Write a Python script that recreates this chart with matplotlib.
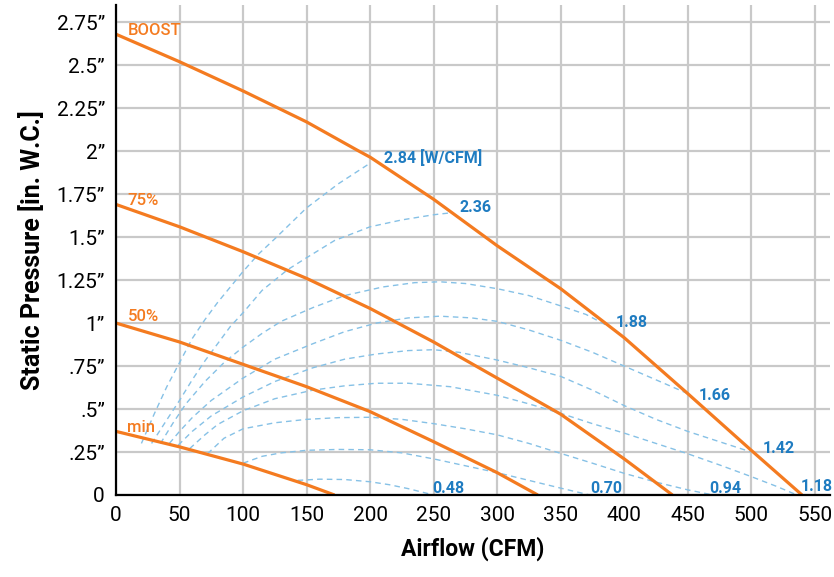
import matplotlib
matplotlib.use('Agg')
import matplotlib.pyplot as plt
from matplotlib import font_manager

# fan speed curves (CFM, in. W.C.)
boost_cfm = [0, 50, 100, 150, 190, 200, 250, 300, 350, 400, 450, 500, 540]
boost_sp = [2.68, 2.52, 2.35, 2.17, 2.005, 1.965, 1.72, 1.45, 1.20, 0.915, 0.59, 0.26, 0.0]
p75_cfm = [0, 50, 100, 150, 200, 250, 300, 350, 400, 438]
p75_sp = [1.69, 1.56, 1.415, 1.26, 1.085, 0.89, 0.68, 0.47, 0.21, 0.0]
p50_cfm = [0, 50, 100, 150, 200, 250, 300, 332]
p50_sp = [1.0, 0.89, 0.76, 0.63, 0.485, 0.31, 0.13, 0.0]
min_cfm = [0, 50, 100, 150, 172]
min_sp = [0.37, 0.28, 0.18, 0.06, 0.0]

speed_names = ['BOOST', '75%', '50%', 'min']
speed_label_y = [2.70, 1.715, 1.04, 0.395]
speed_curves = [(boost_cfm, boost_sp), (p75_cfm, p75_sp), (p50_cfm, p50_sp), (min_cfm, min_sp)]

# efficiency lines (W/CFM)
w284_cfm = [20, 30, 40, 50, 60, 70, 80, 90, 100, 112, 125, 150, 175, 200]
w284_sp = [0.30, 0.47, 0.63, 0.77, 0.91, 1.02, 1.12, 1.21, 1.30, 1.40, 1.49, 1.67, 1.81, 1.93]
w236_cfm = [28, 35, 42, 50, 60, 70, 80, 90, 100, 115, 135, 150, 172, 200, 225, 250, 262]
w236_sp = [0.30, 0.38, 0.46, 0.55, 0.67, 0.78, 0.88, 0.98, 1.06, 1.19, 1.31, 1.38, 1.48, 1.56, 1.60, 1.63, 1.64]
w188_cfm = [35, 45, 55, 70, 85, 100, 115, 130, 155, 180, 210, 235, 255, 275, 300, 325, 350, 370, 388]
w188_sp = [0.30, 0.42, 0.53, 0.66, 0.77, 0.86, 0.94, 1.01, 1.09, 1.16, 1.21, 1.235, 1.24, 1.23, 1.20, 1.16, 1.10, 1.05, 0.98]
w166_cfm = [42, 50, 60, 75, 100, 125, 155, 180, 205, 230, 255, 280, 300, 325, 350, 375, 400, 425, 450]
w166_sp = [0.30, 0.37, 0.45, 0.55, 0.68, 0.79, 0.88, 0.95, 1.00, 1.03, 1.04, 1.03, 1.01, 0.96, 0.90, 0.83, 0.75, 0.67, 0.59]
w142_cfm = [49, 60, 75, 100, 125, 155, 180, 205, 230, 250, 270, 300, 325, 350, 375, 400, 425, 450, 475, 500]
w142_sp = [0.29, 0.37, 0.46, 0.57, 0.66, 0.74, 0.79, 0.82, 0.84, 0.845, 0.83, 0.785, 0.74, 0.69, 0.61, 0.52, 0.44, 0.37, 0.31, 0.25]
w118_cfm = [58, 70, 80, 100, 125, 155, 180, 205, 230, 263, 300, 325, 350, 375, 400, 425, 450, 475, 500, 520, 536]
w118_sp = [0.27, 0.35, 0.41, 0.49, 0.56, 0.61, 0.635, 0.65, 0.65, 0.63, 0.58, 0.53, 0.475, 0.415, 0.36, 0.30, 0.24, 0.175, 0.107, 0.05, 0.0]
w094_cfm = [72, 85, 100, 125, 150, 175, 200, 225, 250, 275, 300, 325, 350, 375, 400, 425, 450, 470]
w094_sp = [0.24, 0.33, 0.385, 0.42, 0.44, 0.45, 0.452, 0.44, 0.415, 0.385, 0.35, 0.30, 0.242, 0.185, 0.126, 0.075, 0.03, 0.0]
w070_cfm = [100, 115, 130, 150, 175, 200, 225, 250, 275, 300, 325, 350, 373]
w070_sp = [0.185, 0.225, 0.245, 0.26, 0.265, 0.263, 0.245, 0.21, 0.17, 0.13, 0.085, 0.04, 0.0]
w048_cfm = [143, 160, 180, 200, 215, 230, 250]
w048_sp = [0.085, 0.092, 0.09, 0.077, 0.06, 0.037, 0.0]

eff_curves = [(w284_cfm, w284_sp), (w236_cfm, w236_sp), (w188_cfm, w188_sp),
              (w166_cfm, w166_sp), (w142_cfm, w142_sp), (w118_cfm, w118_sp),
              (w094_cfm, w094_sp), (w070_cfm, w070_sp), (w048_cfm, w048_sp)]

eff_labels = ['2.84 [W/CFM]', '2.36', '1.88', '1.66', '1.42', '1.18', '0.94', '0.70', '0.48']
eff_label_x = [211, 270, 393, 459, 509, 539, 467, 373, 249]
eff_label_y = [1.96, 1.67, 1.005, 0.58, 0.27, 0.05, 0.04, 0.04, 0.04]

x_ticks = list(range(0, 551, 50))
y_ticks = [0, 0.25, 0.5, 0.75, 1, 1.25, 1.5, 1.75, 2, 2.25, 2.5, 2.75]
y_tick_labels = ['0', '.25\u201d', '.5\u201d', '.75\u201d', '1\u201d', '1.25\u201d', '1.5\u201d',
                 '1.75\u201d', '2\u201d', '2.25\u201d', '2.5\u201d', '2.75\u201d']

names = {f.name for f in font_manager.fontManager.ttflist}
cond = 'Liberation Sans Narrow' if 'Liberation Sans Narrow' in names else 'Roboto'

ORANGE = '#f47b20'
BLUE_LINE = '#86c1e6'
BLUE_TEXT = '#1f7cc1'
GRID = '#c9c9c9'

fig = plt.figure(figsize=(8.34, 5.77), dpi=100)
ax = fig.add_axes([116 / 834, 82 / 577, 714 / 834, 490 / 577])

ax.set_xlim(0, 562)
ax.set_ylim(0, 2.85)
ax.set_xticks(x_ticks)
ax.set_yticks(y_ticks)
ax.set_yticklabels(y_tick_labels)
ax.tick_params(length=0, pad=8, labelsize=15)
for lab in ax.get_xticklabels() + ax.get_yticklabels():
    lab.set_family(cond)

ax.grid(True, color=GRID, linewidth=1.6)
ax.set_axisbelow(True)
for s in ['top', 'right']:
    ax.spines[s].set_visible(False)
for s in ['left', 'bottom']:
    ax.spines[s].set_linewidth(1.6)
    ax.spines[s].set_zorder(5)

for cfm, sp in eff_curves:
    ax.plot(cfm, sp, color=BLUE_LINE, linewidth=1.0, dashes=(4, 3), zorder=3)

for name, (cfm, sp), ly in zip(speed_names, speed_curves, speed_label_y):
    ax.plot(cfm, sp, color=ORANGE, linewidth=2.3, zorder=4, solid_capstyle='butt')
    ax.text(9, ly, name, color=ORANGE, fontsize=12, family=cond, fontweight='medium',
            va='center', ha='left')

for lab, lx, ly in zip(eff_labels, eff_label_x, eff_label_y):
    ax.text(lx, ly, lab, color=BLUE_TEXT, fontsize=11.5, family=cond, fontweight='bold',
            va='center', ha='left', zorder=6)

ax.set_xlabel('Airflow (CFM)', fontsize=16.5, fontweight='bold', family=cond, labelpad=8)
ax.set_ylabel('Static Pressure [in. W.C.]', fontsize=18, fontweight='bold', family=cond, labelpad=8)

fig.savefig('out.png', dpi=100)
